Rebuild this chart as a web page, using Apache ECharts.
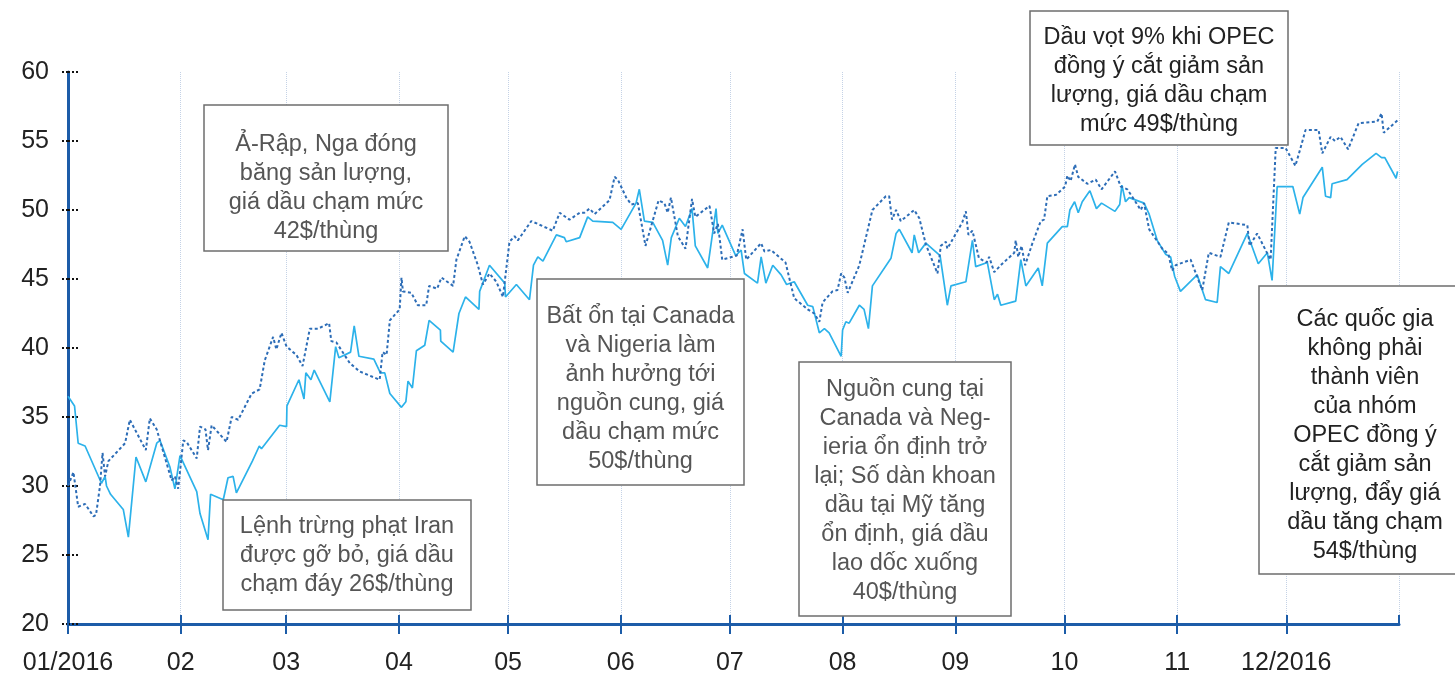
<!DOCTYPE html>
<html>
<head>
<meta charset="utf-8">
<style>
  html, body { margin: 0; padding: 0; background: #fff; }
  #chart { width: 1455px; height: 677px; }
</style>
<script src="https://cdn.jsdelivr.net/npm/echarts@6/dist/echarts.min.js"></script>
</head>
<body>
<div id="chart"></div>
<script>
// day of year 2016 (0 = 01/01) and price in $/thùng
var wtiDay = [0,1.8,2.8,4.7,9.2,10.2,10.6,11.7,15.2,16.6,
  18.7,21.4,24.4,25.3,28.0,29.4,30.8,35.4,36.3,38.5,
  39.2,42.7,44.0,45.4,46.3,50.7,52.6,53.2,58.2,60.1,
  60.2,63.5,64.9,65.4,66.8,67.7,72.0,73.6,74.5,77.7,
  78.7,80.0,84.1,85.9,87.1,88.5,91.7,92.9,93.5,94.7,
  95.8,98.1,99.3,102.4,102.5,105.9,107.5,109.3,113.0,113.2,
  115.9,120.1,120.3,123.3,126.9,128.0,129.2,130.6,134.3,136.5,
  137.0,140.7,142.9,144.3,149.8,152.1,156.2,157.1,158.5,160.8,
  163.5,164.9,165.9,168.1,169.8,171.6,172.5,175.9,178.2,178.7,
  179.9,183.6,185.1,186.0,189.6,190.6,191.9,193.8,196.1,197.6,
  199.7,203.4,204.8,206.6,208.0,209.3,212.6,213.0,213.9,214.8,
  217.6,218.9,220.1,221.2,226.3,227.7,228.6,232.1,232.7,233.9,
  235.9,239.8,241.8,242.8,246.9,248.7,249.6,252.8,254.7,255.6,
  256.5,260.6,262.0,263.4,266.8,267.9,269.3,273.4,274.8,275.5,
  276.8,277.8,278.9,281.0,282.8,284.2,287.9,289.2,289.8,290.8,
  291.8,295.9,297.3,299.5,301.8,303.2,304.3,305.9,310.5,312.8,
  316.0,316.9,319.2,324.3,327.3,329.8,331.1,332.5,336.8,338.7,
  339.6,344.9,345.8,347.2,347.6,351.7,355.9,359.7,361.2,362.1,
  365.2,365.6];
var wtiPrice = [36.5,35.8,33.1,32.9,30.2,30.7,30.0,29.4,28.3,26.3,
  32.1,30.3,33.1,33.3,31.4,29.8,32.2,29.6,28.0,26.1,
  29.4,29.0,30.6,30.7,29.5,31.8,32.9,32.7,34.4,34.3,
  35.8,37.7,36.3,38.2,37.7,38.4,36.1,40.1,39.3,39.7,
  41.6,39.4,39.2,38.2,38.2,36.7,35.7,36.1,37.6,37.1,
  39.8,40.2,42.0,41.3,40.5,39.7,42.5,43.7,42.8,44.1,
  46.0,44.7,43.7,44.6,43.5,46.0,46.6,46.3,48.2,48.0,
  47.7,48.0,49.5,49.2,49.1,48.6,50.5,51.5,49.2,49.1,
  47.8,46.0,48.0,49.4,48.8,50.1,47.4,45.8,50.1,48.3,
  48.9,46.7,47.1,45.4,44.7,46.6,44.7,46.0,45.3,44.6,
  44.8,43.1,43.0,41.1,41.4,41.1,39.4,41.3,41.9,41.8,
  43.1,42.8,41.4,44.5,46.5,48.3,48.6,46.9,48.2,46.9,
  47.6,46.7,43.1,44.5,44.8,47.8,45.9,46.2,43.5,43.9,
  43.1,43.4,46.4,44.5,45.8,44.5,47.6,48.8,48.8,50.0,
  50.6,49.8,50.6,51.4,50.1,50.5,49.9,50.4,51.8,50.6,
  50.9,50.5,49.7,47.8,46.8,46.6,45.2,44.1,45.3,43.5,
  43.3,45.9,45.4,48.3,46.1,46.9,44.9,51.7,51.7,49.7,
  50.9,53.1,51.0,50.9,51.9,52.2,53.3,54.1,53.8,53.8,
  52.3,52.8];

var brentDay = [0,1.5,2.8,4.7,7.0,7.7,8.8,9.5,10.2,11.1,
  15.7,17.0,21.4,22.5,24.4,28.5,29.4,30.3,31.7,32.6,
  35.4,36.3,37.8,38.5,39.5,43.6,45.0,46.8,50.5,52.7,
  54.1,56.4,57.3,58.7,60.1,62.8,64.5,66.5,68.8,71.8,
  72.4,73.8,77.5,80.2,85.7,86.5,87.6,88.5,91.2,91.7,
  92.1,94.4,96.2,98.5,99.3,101.5,102.7,105.9,106.8,109.1,
  110.4,112.7,114.1,115.9,117.8,119.6,121.4,122.8,123.7,127.4,
  133.3,135.2,137.9,140.7,142.0,143.4,144.8,148.9,150.3,151.2,
  153.5,154.9,156.7,158.8,162.4,164.0,164.9,165.8,167.7,169.8,
  171.6,172.5,176.4,177.7,178.7,179.9,183.9,185.5,186.5,190.6,
  191.5,193.3,197.3,199.7,203.4,205.2,206.6,207.5,210.2,211.6,
  212.6,213.5,214.4,217.6,221.2,224.9,225.8,226.6,227.7,229.0,
  232.7,234.1,235.9,239.1,240.0,241.4,241.8,245.9,246.9,247.6,
  248.7,250.5,252.6,253.3,254.7,256.5,260.2,260.6,261.3,262.2,
  263.2,265.2,267.5,268.4,269.3,271.7,274.2,274.8,275.7,276.9,
  277.8,280.3,282.6,284.2,287.9,289.5,291.3,295.0,295.9,297.3,
  300.9,302.6,303.6,304.6,308.7,311.9,313.7,316.9,319.2,324.3,
  324.9,327.0,329.5,330.7,332.1,334.8,337.5,338.5,340.3,343.9,
  344.9,347.2,348.4,349.9,352.0,354.9,360.0,361.2,361.8,365.6];
var brentPrice = [30.0,31.0,28.5,28.7,27.8,27.9,30.0,32.4,30.7,31.8,
  33.1,34.8,32.6,34.9,34.1,30.4,30.7,29.8,33.3,33.2,
  32.0,34.3,34.1,32.6,34.4,33.2,35.0,34.8,36.7,37.0,
  39.1,40.8,39.9,41.1,40.1,39.5,38.7,41.4,41.4,41.8,
  40.5,40.4,38.9,38.3,37.7,39.7,39.5,42.0,42.8,45.1,
  44.1,44.0,43.1,43.1,44.5,44.3,45.1,44.5,46.4,48.1,
  47.7,46.0,44.6,45.4,44.8,43.7,47.7,48.1,47.8,49.2,
  48.5,49.8,49.3,49.8,49.8,50.1,49.7,50.7,52.4,52.2,
  50.9,50.4,50.5,47.4,50.7,50.5,49.8,50.9,48.1,47.2,
  50.8,49.5,50.3,48.3,49.0,46.4,46.7,48.6,46.4,47.6,
  47.0,47.1,46.2,43.6,42.8,42.5,41.9,43.3,44.1,44.2,
  45.4,45.1,44.0,46.0,50.0,51.0,51.0,49.3,50.0,49.2,
  50.0,49.4,47.5,45.4,47.4,47.7,47.2,49.1,49.9,48.2,
  48.5,46.5,46.2,46.6,45.5,46.0,46.9,47.8,46.6,47.4,
  46.0,47.6,49.2,49.3,51.0,51.1,51.7,52.5,52.1,53.3,
  52.4,51.9,52.2,51.5,52.8,51.7,51.5,50.0,50.5,48.6,
  47.2,46.8,45.6,46.0,46.4,44.2,46.9,46.6,49.1,48.9,
  47.4,48.3,47.0,46.4,54.5,54.5,53.2,54.1,55.8,55.8,
  54.1,55.3,55.0,55.3,54.4,56.3,56.4,57.0,55.6,56.5];

var noteTexts = [
  'Ả-Rập, Nga đóng\nbăng sản lượng,\ngiá dầu chạm mức\n42$/thùng',
  'Lệnh trừng phạt Iran\nđược gỡ bỏ, giá dầu\nchạm đáy 26$/thùng',
  'Bất ổn tại Canada\nvà Nigeria làm\nảnh hưởng tới\nnguồn cung, giá\ndầu chạm mức\n50$/thùng',
  'Nguồn cung tại\nCanada và Neg-\nieria ổn định trở\nlại; Số dàn khoan\ndầu tại Mỹ tăng\nổn định, giá dầu\nlao dốc xuống\n40$/thùng',
  'Dầu vọt 9% khi OPEC\nđồng ý cắt giảm sản\nlượng, giá dầu chạm\nmức 49$/thùng',
  'Các quốc gia\nkhông phải\nthành viên\ncủa nhóm\nOPEC đồng ý\ncắt giảm sản\nlượng, đẩy giá\ndầu tăng chạm\n54$/thùng'
];
// box layout: [left, top, width, height, text center y, text colour]
var noteBoxes = [
  [204, 105, 244, 146, 188, '#555'],
  [223, 500, 248, 110, 556, '#555'],
  [537, 279, 207, 206, 389, '#555'],
  [799, 362, 212, 254, 491, '#555'],
  [1030, 11, 258, 134, 81, '#222'],
  [1259, 286, 212, 288, 436, '#222']
];

var t0 = new Date(2016, 0, 1).getTime();
var DAY = 86400000;
function toPoints(days, prices) {
  return days.map(function (d, i) { return [t0 + d * DAY, prices[i]]; });
}

var font = '"Liberation Sans", Arial, sans-serif';
var blue = '#1c5ca8';

var graphics = [];
noteTexts.forEach(function (txt, i) {
  var b = noteBoxes[i];
  graphics.push({
    type: 'rect', z: 100,
    shape: { x: b[0], y: b[1], width: b[2], height: b[3] },
    style: { fill: '#fff', stroke: '#6e6e6e', lineWidth: 1.5 }
  });
  graphics.push({
    type: 'text', z: 101,
    x: b[0] + b[2] / 2 - (i === 5 ? 0 : 0), y: b[4],
    style: {
      text: txt, fill: b[5], fontSize: 23.5, fontFamily: font,
      align: 'center', verticalAlign: 'middle', lineHeight: 29
    }
  });
});

function monthLabel(value) {
  var d = new Date(value);
  if (d.getFullYear() > 2016) return '';
  var m = d.getMonth() + 1;
  var mm = (m < 10 ? '0' : '') + m;
  return (m === 1 || m === 12) ? mm + '/2016' : mm;
}

var xMin = t0, xMax = new Date(2017, 0, 1).getTime();

var chart = echarts.init(document.getElementById('chart'));
chart.setOption({
  animation: false,
  backgroundColor: '#fff',
  grid: { left: 68, right: 56, top: 72, bottom: 53, containLabel: false },
  xAxis: [{
    type: 'time', min: xMin, max: xMax, splitNumber: 12,
    minInterval: 28 * DAY, maxInterval: 31 * DAY,
    position: 'bottom',
    axisLine: { lineStyle: { color: blue, width: 3 } },
    axisTick: { show: true, inside: false, length: 10, lineStyle: { color: blue, width: 2 } },
    axisLabel: { formatter: monthLabel, color: '#222', fontSize: 25, fontFamily: font, margin: 27 },
    splitLine: { show: true, lineStyle: { color: '#c4d2e6', type: 'dotted', width: 1 } }
  }, {
    type: 'time', min: xMin, max: xMax, splitNumber: 12,
    minInterval: 28 * DAY, maxInterval: 31 * DAY,
    position: 'bottom',
    axisLine: { show: false },
    axisTick: { show: true, inside: true, length: 9, lineStyle: { color: blue, width: 2 } },
    axisLabel: { show: false },
    splitLine: { show: false }
  }],
  yAxis: [{
    type: 'value', min: 20, max: 60, interval: 5, position: 'left',
    axisLine: { show: true, lineStyle: { color: blue, width: 3 } },
    axisTick: { show: true, inside: false, length: 8, lineStyle: { color: '#111', type: 'dotted', width: 2 } },
    axisLabel: { color: '#222', fontSize: 25, fontFamily: font, margin: 19 },
    splitLine: { show: false }
  }, {
    type: 'value', min: 20, max: 60, interval: 5, position: 'left',
    axisLine: { show: false },
    axisTick: { show: true, inside: true, length: 12, lineStyle: { color: '#111', type: 'dotted', width: 2 } },
    axisLabel: { show: false },
    splitLine: { show: false }
  }],
  series: [{
    name: 'WTI', type: 'line', showSymbol: false, z: 3,
    data: toPoints(wtiDay, wtiPrice),
    lineStyle: { color: '#2cb2ea', width: 1.7 }
  }, {
    name: 'Brent', type: 'line', showSymbol: false, z: 4,
    data: toPoints(brentDay, brentPrice),
    lineStyle: { color: '#2d6db7', width: 2, type: [3, 2.5] }
  }],
  graphic: graphics
});
</script>
</body>
</html>
